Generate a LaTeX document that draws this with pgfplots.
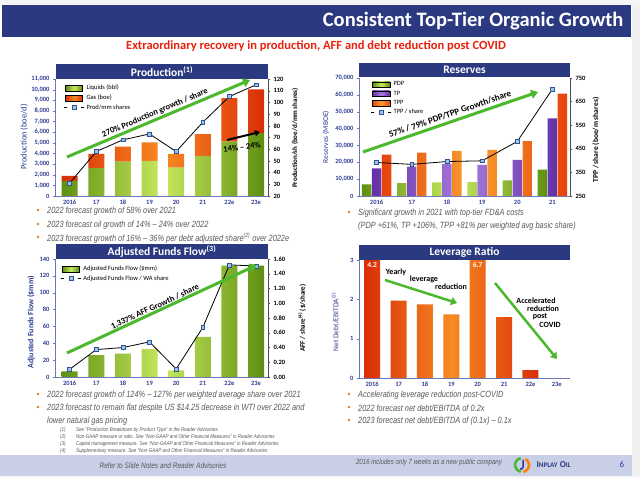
\documentclass[border=0pt]{standalone}
\usepackage{pgfplots}
\pgfplotsset{compat=1.18}
\usepackage{fontspec}
\setmainfont{Carlito}
\newfontfamily\narrowfont[FakeStretch=0.82]{Liberation Sans}
\usetikzlibrary{arrows.meta}
\definecolor{navy}{HTML}{2B3A80}
\definecolor{axblue}{HTML}{2E3D93}
\definecolor{subred}{HTML}{E8200C}
\definecolor{gdark}{HTML}{5E9010}
\definecolor{glight}{HTML}{C8E860}
\definecolor{odark}{HTML}{DA2E08}
\definecolor{olight}{HTML}{F78A22}
\definecolor{pdark}{HTML}{6530A5}
\definecolor{plight}{HTML}{A77CDD}
\definecolor{tdark}{HTML}{E6420C}
\definecolor{tlight}{HTML}{FAA030}
\definecolor{arrowgreen}{HTML}{4CB82B}
\definecolor{bultext}{HTML}{595959}
\definecolor{bulorange}{HTML}{E8882A}
\definecolor{footer}{HTML}{C8CFE6}
\definecolor{markfill}{HTML}{9DC3E6}
\definecolor{markdraw}{HTML}{2F5597}

\pgfplotsset{
  panel/.style={scale only axis, anchor=south west,
    axis line style={-, draw=axblue!70},
    tick align=outside, major tick length=2pt,
    xtick style={draw=none},
    ytick style={draw=axblue!70},
    scaled y ticks=false,
    tick label style={font=\fontsize{6.5}{7}\selectfont\bfseries},
    yticklabel style={text=axblue},
    xticklabel style={text=axblue, anchor=north, text height=4.6pt, text depth=0pt, inner sep=1.5pt},
    /pgf/number format/assume math mode=true,
    /pgf/number format/1000 sep={,},
    legend cell align=left,
    legend style={draw=none, fill=none, font=\fontsize{6.5}{7.5}\selectfont, inner sep=1pt, row sep=-0.5pt},
  },
  twin/.style={scale only axis, anchor=south west, axis x line=none, axis y line*=right,
    axis line style={-, draw=black!70},
    tick align=outside, major tick length=2pt,
    scaled y ticks=false,
    ytick style={draw=black!70},
    tick label style={font=\fontsize{6.5}{7}\selectfont\bfseries, text=black},
    /pgf/number format/assume math mode=true,
  },
  linestyle/.style={black, line width=0.8pt, mark=square*, mark size=1.9pt, mark options={fill=markfill, draw=markdraw, line width=0.5pt}},
  greenbar/.style={draw=none, left color=gdark, right color=gdark, middle color=glight},
  gasbar/.style={draw=none, left color=odark, right color=odark, middle color=olight},
  purplebar/.style={draw=none, left color=pdark, right color=pdark, middle color=plight},
  tppbar/.style={draw=none, left color=tdark, right color=tdark, middle color=tlight},
  levbar/.style={draw=none, left color=odark, right color=odark, middle color=olight},
}
\newcommand{\bul}[3]{\node[anchor=west, inner sep=0pt, text=bultext, font=\narrowfont\itshape\fontsize{9}{10}\selectfont] at (#1,#2) {#3};}
\newcommand{\bdot}[2]{\node[text=bulorange, inner sep=0pt, font=\fontsize{7}{8}\selectfont] at (#1,#2) {\textbullet};}
\newcommand{\fnote}[3]{\node[anchor=west, inner sep=0pt, text=bultext, font=\narrowfont\itshape\fontsize{5.5}{6}\selectfont] at (60,#1) {#2};
  \node[anchor=west, inner sep=0pt, text=bultext, font=\narrowfont\itshape\fontsize{5.5}{6}\selectfont] at (76,#1) {#3};}

\begin{document}
\begin{tikzpicture}
\begin{scope}[x=1pt,y=1pt]
\useasboundingbox (0,0) rectangle (640,478);
\fill[white] (0,0) rectangle (640,478);
\fill[gray!12] (632,0) rectangle (640,478);
\fill[gray!8] (0,473) rectangle (640,478);
\fill[gray!8] (0,0) rectangle (640,2);
\fill[navy] (2,441) rectangle (631,473);
\node[anchor=east, text=white, font=\fontsize{20.5}{24}\selectfont\bfseries] at (627,457) {Consistent Top-Tier Organic Growth};
\node[text=subred, font=\fontsize{12.5}{14}\selectfont\bfseries] at (316,432) {Extraordinary recovery in production, AFF and debt reduction post COVID};
\end{scope}

% ---------------- Production ----------------
\begin{axis}[panel, at={(55pt,282pt)}, width=213pt, height=117pt,
  xmin=-0.55, xmax=7.45, ymin=0, ymax=11000,
  axis x line*=bottom, axis y line*=left,
  xtick={0,...,7}, xticklabels={2016,17,18,19,20,21,22e,23e},
  ytick={0,1000,...,11000},
  ybar stacked, bar width=16pt,
  legend style={at={(0.035,0.975)}, anchor=north west}]
\addplot[greenbar, area legend] coordinates {(0,1410) (1,2610) (2,3240) (3,3300) (4,2670) (5,3770) (6,5120) (7,5910)};
\addplot[gasbar, area legend] coordinates {(0,480) (1,1350) (2,1410) (3,1730) (4,1290) (5,2040) (6,4090) (7,4120)};
\addlegendimage{linestyle, line legend}
\legend{Liquids (bbl), Gas (boe), Prod/mm shares}
\end{axis}
\begin{axis}[twin, at={(55pt,282pt)}, width=213pt, height=117pt,
  xmin=-0.55, xmax=7.45, ymin=20, ymax=120, ytick={20,30,...,120}]
\addplot[linestyle] coordinates {(0,31) (1,58) (2,68) (3,73) (4,58) (5,83) (6,105) (7,115)};
\end{axis}

% ---------------- Reserves ----------------
\begin{axis}[panel, at={(359pt,282pt)}, width=211pt, height=118pt,
  xmin=-0.5, xmax=5.5, ymin=0, ymax=70000,
  axis x line*=bottom, axis y line*=left,
  xtick={0,...,5}, xticklabels={2016,17,18,19,20,21},
  ytick={0,10000,...,70000},
  ybar=0.6pt, bar width=9.4pt,
  legend style={at={(0.05,0.995)}, anchor=north west}]
\addplot[greenbar, area legend] coordinates {(0,6900) (1,7700) (2,8100) (3,8300) (4,9300) (5,15600)};
\addplot[purplebar, area legend] coordinates {(0,16400) (1,17400) (2,18900) (3,18500) (4,21500) (5,46000)};
\addplot[tppbar, area legend] coordinates {(0,24600) (1,25800) (2,26800) (3,27400) (4,32500) (5,60700)};
\addlegendimage{linestyle, line legend}
\legend{PDP, TP, TPP, TPP / share}
\end{axis}
\begin{axis}[twin, at={(359pt,282pt)}, width=211pt, height=118pt,
  xmin=-0.5, xmax=5.5, ymin=250, ymax=750, ytick={250,350,...,750}]
\addplot[linestyle] coordinates {(0,392) (1,384) (2,396) (3,399) (4,481) (5,703)};
\end{axis}

% ---------------- AFF ----------------
\begin{axis}[panel, at={(55pt,101pt)}, width=213pt, height=118pt,
  xmin=-0.55, xmax=7.45, ymin=0, ymax=140,
  axis x line*=bottom, axis y line*=left,
  xtick={0,...,7}, xticklabels={2016,17,18,19,20,21,22e,23e},
  ytick={0,20,...,140},
  ybar, bar width=16pt,
  legend style={at={(0.02,0.97)}, anchor=north west}]
\addplot[greenbar, area legend] coordinates {(0,6.7) (1,26) (2,27.8) (3,33) (4,8) (5,47.6) (6,132) (7,132)};
\addlegendimage{linestyle, line legend}
\legend{Adjusted Funds Flow (\$mm), Adjusted Funds Flow / WA share}
\end{axis}
\begin{axis}[twin, at={(55pt,101pt)}, width=213pt, height=118pt,
  xmin=-0.55, xmax=7.45, ymin=0, ymax=1.6, ytick={0,0.2,0.4,0.6,0.8,1.0,1.2,1.4,1.6},
  yticklabel style={/pgf/number format/.cd, fixed, fixed zerofill, precision=2}]
\addplot[linestyle] coordinates {(0,0.104) (1,0.372) (2,0.399) (3,0.476) (4,0.109) (5,0.671) (6,1.52) (7,1.505)};
\end{axis}

% ---------------- Leverage ----------------
\begin{axis}[panel, at={(359pt,100pt)}, width=211pt, height=118pt,
  xmin=-0.5, xmax=7.5, ymin=0, ymax=3,
  axis x line*=bottom, axis y line*=left,
  xtick={0,...,7}, xticklabels={2016,17,18,19,20,21,22e,23e},
  ytick={0,1,2,3},
  ybar, bar width=16pt]
\addplot[levbar] coordinates {(0,4.2) (1,1.97) (2,1.87) (3,1.62) (4,6.7) (5,1.55) (6,0.2)};
\node[text=white, font=\fontsize{7.5}{8}\selectfont\bfseries] at (axis cs:0,2.88) {4.2};
\node[text=white, font=\fontsize{7.5}{8}\selectfont\bfseries] at (axis cs:4,2.88) {6.7};
\end{axis}

\begin{scope}[x=1pt,y=1pt]
% title bars
\fill[navy] (56,399) rectangle (268,414);
\node[text=white, font=\fontsize{11.5}{12}\selectfont\bfseries] at (162,406.5) {Production\textsuperscript{(1)}};
\fill[navy] (359,401) rectangle (570,415);
\node[text=white, font=\fontsize{11.5}{12}\selectfont\bfseries] at (464.5,408) {Reserves};
\fill[navy] (56,219) rectangle (268,234);
\node[text=white, font=\fontsize{11.5}{12}\selectfont\bfseries] at (162,226.5) {Adjusted Funds Flow\textsuperscript{(3)}};
\fill[navy] (359,218) rectangle (570,233);
\node[text=white, font=\fontsize{11.5}{12}\selectfont\bfseries] at (464.5,225.5) {Leverage Ratio};

% y labels
\node[rotate=90, text=axblue, font=\fontsize{8.5}{9}\selectfont] at (24,341) {Production (boe/d)};
\node[rotate=90, text=black, font=\fontsize{7}{8}\selectfont\bfseries] at (295,340) {Production/sh (boe/d/mm shares)};
\node[rotate=90, text=axblue, font=\fontsize{7.5}{8}\selectfont] at (326,341) {Reserves (MBOE)};
\node[rotate=90, text=black, font=\fontsize{7.5}{8}\selectfont\bfseries] at (596,338) {TPP / share (boe/m shares)};
\node[rotate=90, text=axblue, font=\fontsize{8}{9}\selectfont\bfseries] at (31,156) {Adjusted Funds Flow (\$mm)};
\node[rotate=90, text=black, font=\fontsize{7}{8}\selectfont\bfseries] at (302,160) {AFF / share\textsuperscript{(4)} (\$/share)};
\node[rotate=90, text=axblue, font=\fontsize{7.5}{8}\selectfont] at (335,156) {Net Debt/EBITDA\textsuperscript{(2)}};

% annotations
\draw[arrowgreen, line width=3pt, -{Triangle[length=7pt,width=9pt]}] (67,321) -- (250,398);
\node[rotate=23, font=\fontsize{8.5}{9}\selectfont\bfseries] at (155,365) {270\% Production growth / share};
\draw[black, line width=2pt, -{Triangle[length=5pt,width=6pt]}] (227,338) -- (260,346);
\node[rotate=8, font=\fontsize{8.5}{9}\selectfont\bfseries] at (242,331) {14\% – 24\%};
\draw[arrowgreen, line width=3pt, -{Triangle[length=7pt,width=9pt]}] (363,326) -- (538,386);
\node[rotate=19, font=\fontsize{9}{10}\selectfont\bfseries] at (450,364) {57\% / 79\% PDP/TPP Growth/share};
\draw[arrowgreen, line width=3pt, -{Triangle[length=7pt,width=9pt]}] (67,125) -- (257,213);
\node[rotate=25, font=\fontsize{8.5}{9}\selectfont\bfseries] at (155,171) {1,337\% AFF Growth / share};
\draw[arrowgreen, line width=2.5pt, -{Triangle[length=6pt,width=8pt]}] (385,198) -- (457,175);
\draw[arrowgreen, line width=2.5pt, -{Triangle[length=6pt,width=8pt]}] (495,195) -- (557,119);
\begin{scope}[font=\fontsize{8}{9}\selectfont\bfseries]
\node at (396,206) {Yearly};
\node at (424,199) {leverage};
\node at (451,191) {reduction};
\node at (536,177) {Accelerated};
\node at (543,169) {reduction};
\node at (540,161) {post};
\node at (550,153) {COVID};
\end{scope}

% bullets
\bdot{38}{267}\bul{47}{267}{2022 forecast growth of 58\% over 2021}
\bdot{38}{253}\bul{47}{253}{2023 forecast oil growth of 14\% – 24\% over 2022}
\bdot{38}{240}\bul{47}{240}{2023 forecast growth of 16\% – 36\% per debt adjusted share\textsuperscript{(2)} over 2022e}
\bdot{349}{265}\bul{358}{265}{Significant growth in 2021 with top-tier FD\&A costs}
\bul{358}{252}{(PDP +61\%, TP +106\%, TPP +81\% per weighted avg basic share)}
\bdot{38}{83}\bul{47}{83}{2022 forecast growth of 124\% – 127\% per weighted average share over 2021}
\bdot{38}{70}\bul{47}{70}{2023 forecast to remain flat despite US \$14.25 decrease in WTI over 2022 and}
\bul{47}{57}{lower natural gas pricing}
\bdot{349}{83}\bul{358}{83}{Accelerating leverage reduction post-COVID}
\bdot{349}{70}\bul{358}{70}{2022 forecast net debt/EBITDA of 0.2x}
\bdot{349}{57}\bul{358}{57}{2023 forecast net debt/EBITDA of (0.1x) – 0.1x}

% footnotes
\fnote{48}{(1)}{See “Production Breakdown by Product Type” in the Reader Advisories}
\fnote{41}{(2)}{Non-GAAP measure or ratio. See “Non-GAAP and Other Financial Measures” in Reader Advisories}
\fnote{34}{(3)}{Capital management measure. See “Non-GAAP and Other Financial Measures” in Reader Advisories}
\fnote{27}{(4)}{Supplementary measure. See “Non-GAAP and Other Financial Measures” in Reader Advisories}

% footer
\fill[footer] (0,2) rectangle (632,23);
\node[text=bultext, font=\narrowfont\itshape\fontsize{8}{9}\selectfont] at (163,12) {Refer to Slide Notes and Reader Advisories};
\node[text=bultext, font=\narrowfont\itshape\fontsize{7.5}{9}\selectfont] at (429,15) {2016 includes only 7 weeks as a new public company};
\draw[line width=2.5pt, arrowgreen] ([shift={(100:7)}]522,13) arc (100:260:7);
\draw[line width=2.5pt, orange] ([shift={(-80:7)}]522,13) arc (-80:60:7);
\draw[line width=1.5pt, axblue] (523,18) -- (523,11) arc (0:-120:2);
\node[anchor=west, text=navy, font=\bfseries] at (533,13) {{\fontsize{9}{10}\selectfont I}{\fontsize{7}{8}\selectfont NPLAY} {\fontsize{9}{10}\selectfont O}{\fontsize{7}{8}\selectfont IL}};
\node[text=axblue, font=\fontsize{9}{10}\selectfont] at (622,14) {6};
\end{scope}
\end{tikzpicture}
\end{document}
